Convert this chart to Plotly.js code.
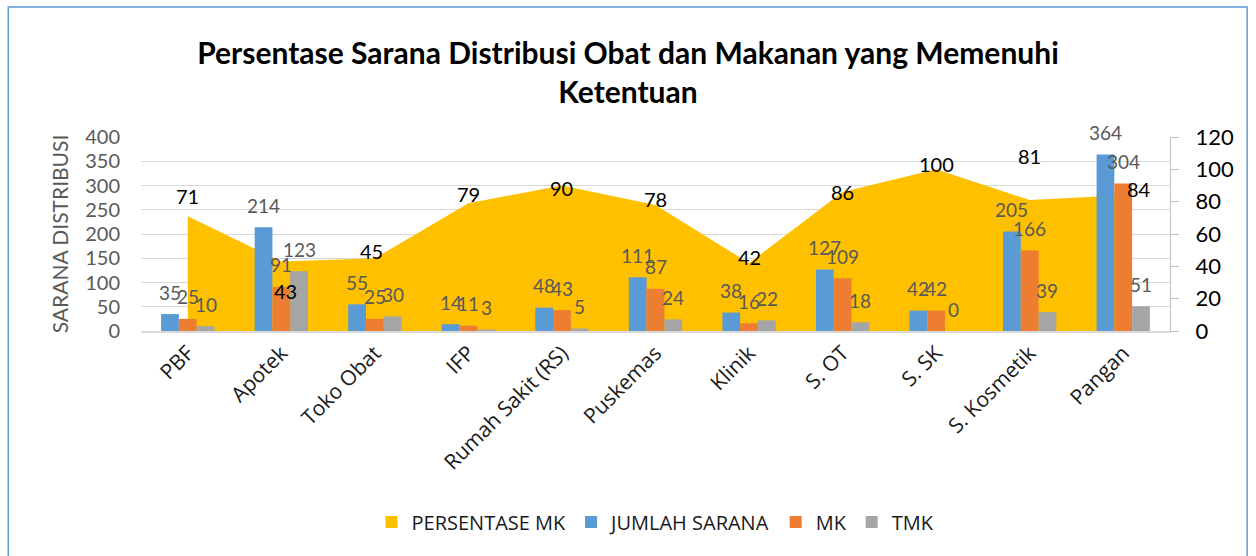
<!DOCTYPE html>
<html><head><meta charset="utf-8">
<script src="https://cdn.plot.ly/plotly-3.0.1.min.js"></script>
<style>html,body{margin:0;padding:0;background:#fff;}#chart{width:1256px;height:556px;}</style>
</head><body><div id="chart"></div>
<script>
var categories = ["PBF","Apotek","Toko Obat","IFP","Rumah Sakit (RS)","Puskemas","Klinik","S. OT","S. SK","S. Kosmetik","Pangan"];
var persentaseMK = [71,43,45,79,90,78,42,86,100,81,84];
var jumlahSarana = [35,214,55,14,48,111,38,127,42,205,364];
var mk = [25,91,25,11,43,87,16,109,42,166,304];
var tmk = [10,123,30,3,5,24,22,18,0,39,51];

var FONT = "Lato, 'Open Sans', sans-serif";
var FONT2 = "Open Sans";
var labelShiftY = [20,-30,7,9,-2,6,6,0,5,44,6];
var labelShiftX = [0,4,-3,0,0,0,0,0,0,0,16];

var PLOT_W = 1256 - 141 - 86;
var BARGAP = 0.43;
var barW = PLOT_W / categories.length * (1 - BARGAP) / 3;

function barTrace(name, vals, color){
  return {type:'bar', name:name, x:categories, y:vals, xaxis:'x', yaxis:'y2',
    marker:{color:color}, hoverinfo:'x+y'};
}

var traces = [
  {type:'scatter', name:'PERSENTASE MK', x:categories, y:persentaseMK, yaxis:'y', showlegend:false,
   mode:'lines', line:{width:0,color:'#FFC000'}, fill:'tozeroy', fillcolor:'#FFC000'},
  {type:'bar', name:'PERSENTASE MK', x:[null], y:[null], xaxis:'x2', yaxis:'y3', marker:{color:'#FFC000'}},
  barTrace('JUMLAH SARANA', jumlahSarana, '#5B9BD5'),
  barTrace('MK', mk, '#ED7D31'),
  barTrace('TMK', tmk, '#A5A5A5')
];

var annotations = persentaseMK.map(function(v,i){
  return {x:categories[i], y:v, xref:'x', yref:'y', text:String(v), showarrow:false,
    yshift:labelShiftY[i], xshift:labelShiftX[i], font:{family:FONT,size:20,color:'#000'}};
});
[jumlahSarana, mk, tmk].forEach(function(series, k){
  series.forEach(function(v,i){
    annotations.push({x:categories[i], y:v, xref:'x', yref:'y2', text:String(v), showarrow:false,
      xshift:(k-1)*barW, yshift:22, font:{family:FONT,size:19,color:'#595959'}});
  });
});

var layout = {
  width:1256, height:556,
  margin:{l:141, r:86, t:137, b:225},
  paper_bgcolor:'#fff', plot_bgcolor:'rgba(0,0,0,0)',
  font:{family:FONT},
  title:{text:'<b>Persentase Sarana Distribusi Obat dan Makanan yang Memenuhi<br>Ketentuan</b>',
    font:{family:FONT,size:30,color:'#000'}, x:0.5, xref:'container', y:0.885, yref:'container', yanchor:'top'},
  barmode:'group', bargap:BARGAP, bargroupgap:0,
  showlegend:true,
  legend:{orientation:'h', x:0.5, xanchor:'center', y:-0.985, yanchor:'middle',
    font:{family:FONT2,size:20,color:'#1a1a1a'}, traceorder:'normal', itemwidth:30},
  xaxis:{type:'category', tickangle:-45, tickfont:{family:FONT2,size:21,color:'#1a1a1a'},
    showline:true, linecolor:'#D9D9D9', linewidth:1.5, showgrid:false, ticks:''},
  xaxis2:{visible:false, domain:[0,0.01], anchor:'y3'},
  yaxis3:{visible:false, domain:[0,0.01], anchor:'x2'},
  yaxis:{side:'right', range:[0,120], dtick:20, showgrid:false, zeroline:false,
    showline:true, linecolor:'#BFBFBF', ticks:'outside', ticklen:8, tickcolor:'#BFBFBF',
    ticklabelstandoff:12, tickfont:{family:FONT,size:22,color:'#000'}},
  yaxis2:{side:'left', overlaying:'y', range:[0,400], dtick:50, showgrid:true, gridcolor:'#D9D9D9',
    zeroline:false, ticklabelstandoff:20, tickfont:{family:FONT,size:20,color:'#595959'},
    title:{text:'SARANA DISTRIBUSI', font:{family:FONT,size:21,color:'#595959'}, standoff:10}},
  annotations:annotations,
  shapes:[{type:'rect', xref:'paper', yref:'paper', x0:-0.129, x1:1.075, y0:-1.19, y1:1.67,
    line:{color:'#5B9BD5', width:1.5}, fillcolor:'rgba(0,0,0,0)', layer:'below'}]
};

Plotly.newPlot('chart', traces, layout, {displayModeBar:false, staticPlot:true});
</script>
</body></html>
